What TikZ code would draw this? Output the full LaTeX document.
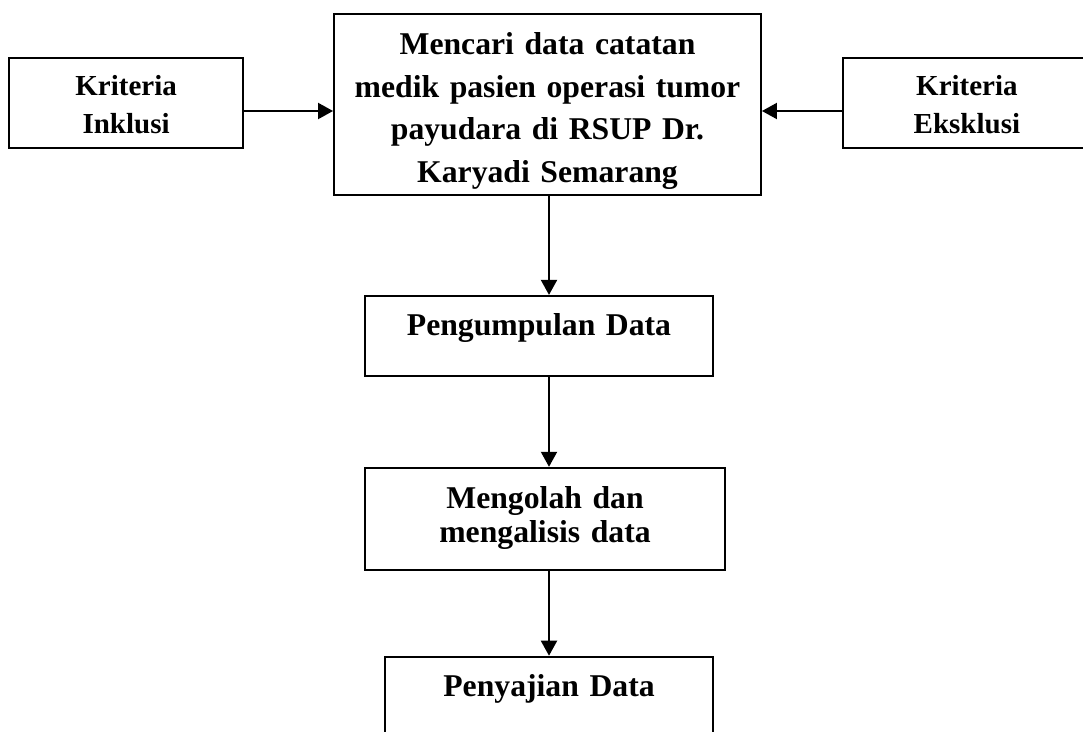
\documentclass[tikz,border=0pt]{standalone}
\usepackage{fontspec}
\setmainfont{Liberation Serif}
\usepackage{tikz}
\usetikzlibrary{arrows.meta,positioning}

\begin{document}
\begin{tikzpicture}[
    x=1pt, y=-1pt,
    font=\bfseries,
    proc/.style={
        draw=black, line width=1.9pt, inner sep=0pt, align=center,
        font=\bfseries\fontsize{31.7}{42.5}\selectfont},
    krit/.style={
        draw=black, line width=1.9pt, inner sep=0pt, align=center,
        text width=#1, text height=38pt, text depth=52pt,
        font=\bfseries\fontsize{29}{38}\selectfont},
    arr/.style={-{Triangle[length=15pt,width=16pt]}, line width=2pt, draw=black}
]
\useasboundingbox (0,0) rectangle (1083,731);

%% ══════════════════════════════ TOP ROW ══════════════════════════════
\node[proc, text width=427pt, text height=41pt, text depth=140pt, anchor=north]
    (main) at (547.5,13)
    {Mencari data catatan\\medik pasien operasi tumor\\payudara di RSUP Dr.\\Karyadi Semarang};

\node[krit=234pt, left=89pt of main, yshift=1.5pt] (inklusi)
    {Kriteria\\Inklusi};
\node[krit=248pt, right=80pt of main, yshift=1.5pt] (eksklusi)
    {Kriteria\\Eksklusi};

%% arrows meet the main box a bit below the centre line
\coordinate (axis) at (0,111);
\draw[arr] (inklusi.east |- axis)  -- (main.west |- axis);
\draw[arr] (eksklusi.west |- axis) -- (main.east |- axis);

%% ══════════════════════════════ CHAIN ══════════════════════════════
\node[proc, text width=348pt, text height=40pt, text depth=40pt,
      below=99pt of main, xshift=-8.5pt] (kumpul)
    {Pengumpulan Data};
\node[proc, text width=360pt, text height=41pt, text depth=61pt,
      font=\bfseries\fontsize{31.7}{34}\selectfont,
      below=90pt of kumpul, xshift=6pt] (olah)
    {Mengolah dan\\mengalisis data};
\node[proc, text width=328pt, text height=40pt, text depth=90pt,
      below=85pt of olah, xshift=4pt] (saji)
    {Penyajian Data};

%% vertical spine, slightly right of the box centres
\coordinate (spine) at (549,0);
\draw[arr] (spine |- main.south)   -- (spine |- kumpul.north);
\draw[arr] (spine |- kumpul.south) -- (spine |- olah.north);
\draw[arr] (spine |- olah.south)   -- (spine |- saji.north);

\end{tikzpicture}
\end{document}
